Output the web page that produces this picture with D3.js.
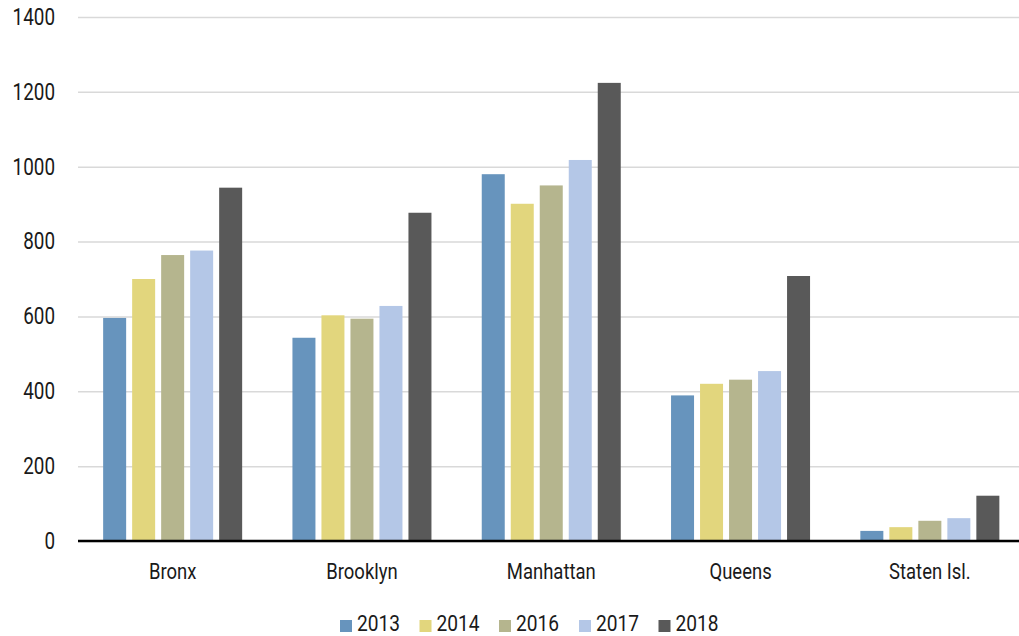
<!DOCTYPE html>
<html>
<head>
<meta charset="utf-8">
<script src="https://cdn.jsdelivr.net/npm/d3@7"></script>
<style>
  html, body { margin: 0; padding: 0; background: #fff; }
  svg text { font-family: "Roboto", "DejaVu Sans", sans-serif; fill: #1a1a1a; }
</style>
</head>
<body>
<svg id="chart" width="1019" height="636"></svg>
<script>
// Boroughs along the x axis
const categories = ["Bronx", "Brooklyn", "Manhattan", "Queens", "Staten Isl."];
// Years shown as series
const years = ["2013", "2014", "2016", "2017", "2018"];
// Values per year, one entry per borough
const values2013 = [596, 543, 980, 389, 27];
const values2014 = [700, 603, 901, 420, 37];
const values2016 = [764, 594, 950, 431, 54];
const values2017 = [776, 628, 1018, 454, 61];
const values2018 = [944, 877, 1224, 708, 121];
const seriesValues = [values2013, values2014, values2016, values2017, values2018];
const colors = ["#6794bd", "#e2d67d", "#b5b58e", "#b4c7e7", "#595959"];
const yTicks = [0, 200, 400, 600, 800, 1000, 1200, 1400];

const svg = d3.select("#chart");
const plotLeft = 78, plotRight = 1019, plotTop = 17, plotBottom = 541;
const bandRight = 1024.5;

// Squeeze text horizontally to get a condensed face
function condense(sel, factor) {
  sel.each(function () {
    const w = this.getComputedTextLength();
    d3.select(this).attr("textLength", w * factor).attr("lengthAdjust", "spacingAndGlyphs");
  });
}

const x0 = d3.scaleBand().domain(categories).range([plotLeft, bandRight]).padding(0);
const x1 = d3.scaleBand().domain(years).range([0, x0.bandwidth()])
  .paddingInner(0.207).paddingOuter(0.867);
const y = d3.scaleLinear().domain([0, 1400]).range([plotBottom, plotTop]);
const color = d3.scaleOrdinal().domain(years).range(colors);

// Horizontal gridlines with tick labels
const yAxis = d3.axisLeft(y).tickValues(yTicks).tickSize(-(plotRight - plotLeft)).tickPadding(23)
  .tickFormat(d3.format("d"));
const gy = svg.append("g").attr("transform", `translate(${plotLeft},0)`).call(yAxis);
gy.select(".domain").remove();
gy.selectAll(".tick line").attr("stroke", "#d9d9d9").attr("stroke-width", 1.5);
gy.selectAll(".tick text").attr("font-size", 23).attr("fill", "#1a1a1a").call(condense, 0.82);

// Bars
const rows = categories.map((c, i) => ({
  cat: c,
  vals: years.map((yr, j) => ({ year: yr, value: seriesValues[j][i] }))
}));
svg.append("g").selectAll("g").data(rows).join("g")
  .attr("transform", d => `translate(${x0(d.cat)},0)`)
  .selectAll("rect").data(d => d.vals).join("rect")
  .attr("x", d => x1(d.year))
  .attr("width", x1.bandwidth())
  .attr("y", d => y(d.value))
  .attr("height", d => y(0) - y(d.value))
  .attr("fill", d => color(d.year));

// Baseline and category labels
const xAxis = d3.axisBottom(x0).tickSize(0).tickPadding(22);
const gx = svg.append("g").attr("transform", `translate(0,${plotBottom})`).call(xAxis);
gx.select(".domain").attr("d", `M${plotLeft},0H${plotRight}`)
  .attr("stroke", "#000").attr("stroke-width", 2.5);
gx.selectAll(".tick text").attr("font-size", 22).attr("fill", "#1a1a1a").call(condense, 0.84);

// Legend
const legend = svg.append("g").attr("transform", "translate(340,626)");
const itemX = [0, 79.5, 159, 239, 318.5];
const items = legend.selectAll("g").data(years).join("g")
  .attr("transform", (d, i) => `translate(${itemX[i]},0)`);
items.append("rect").attr("x", 0).attr("y", -6).attr("width", 12).attr("height", 12)
  .attr("fill", d => color(d));
items.append("text").attr("x", 17).attr("y", 5)
  .attr("font-size", 22).text(d => d).call(condense, 0.87);
</script>
</body>
</html>
